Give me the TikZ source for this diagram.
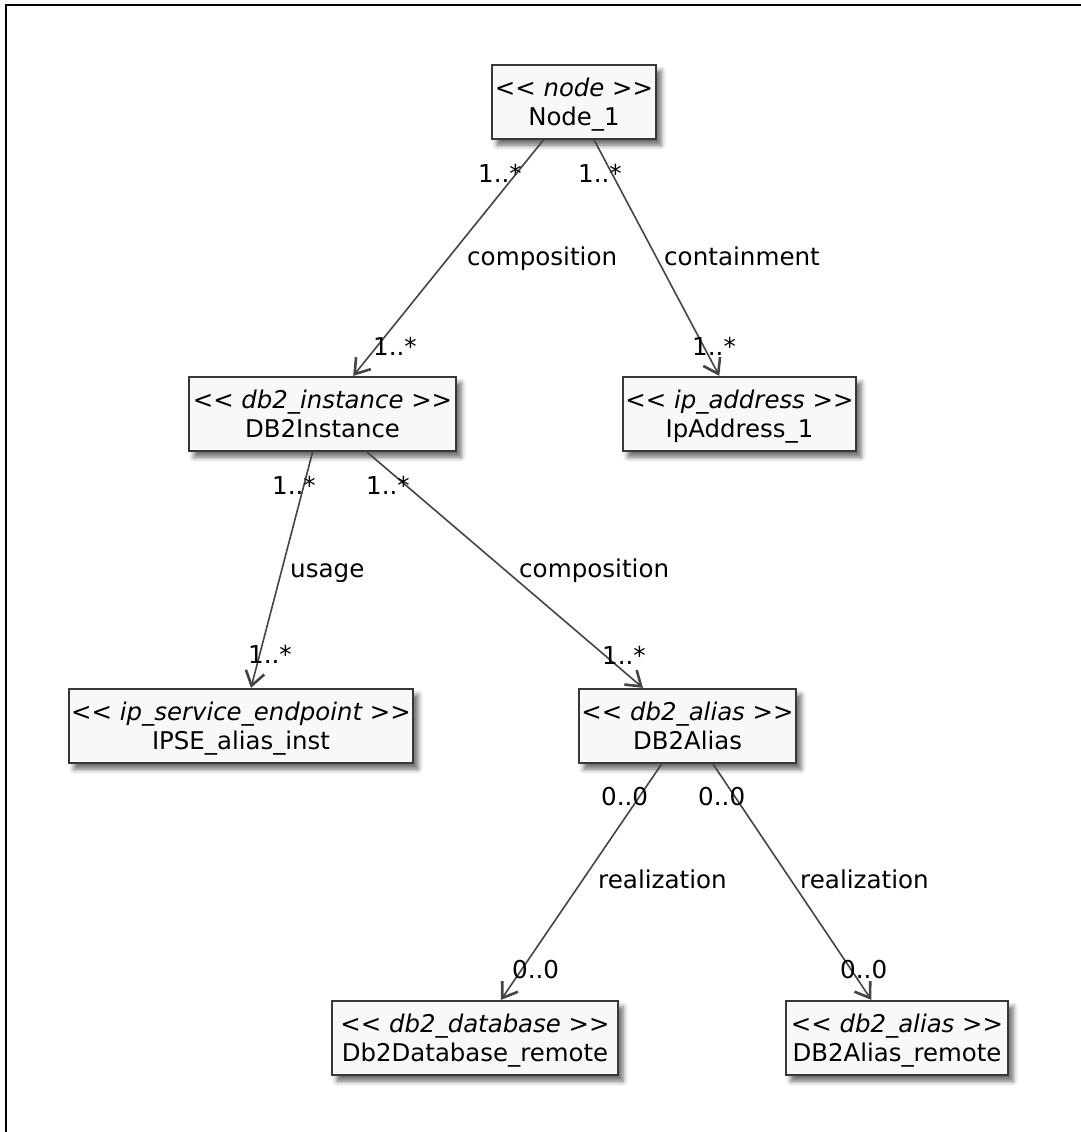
\documentclass[tikz,border=0pt]{standalone}
\usepackage{fontspec}
\setmainfont{DejaVu Sans}
\usetikzlibrary{arrows.meta,shadows.blur}

\definecolor{boxfill}{HTML}{F8F8F8}
\definecolor{boxline}{HTML}{383838}
\definecolor{edgecol}{HTML}{444444}

% two-line class text: italic stereotype over the element name
\newcommand\clsbox[2]{\vbox{\offinterlineskip\halign{\hfil##\hfil\cr
  \rule[-6pt]{0pt}{29pt}\itshape <{}< #1 >{}>\cr
  \rule[-6pt]{0pt}{29pt}#2\cr}}}

\begin{document}
\begin{tikzpicture}[x=1pt,y=-1pt,
  umlclass/.style={draw=boxline, line width=2.2pt, fill=boxfill, inner sep=0pt,
    minimum height=74pt,
    blur shadow={shadow xshift=5pt, shadow yshift=-6pt, shadow blur radius=5pt, shadow opacity=60},
    font=\fontsize{24.4}{29}\selectfont},
  assoc/.style={draw=edgecol, line width=1.6pt,
    -{Straight Barb[length=14pt,width=19pt,line width=2.6pt]}},
  edgetext/.style={anchor=base west, inner sep=0pt, font=\fontsize{24.6}{29}\selectfont}]

\useasboundingbox (0,0) rectangle (1081,1132);
\draw[line width=2pt, line cap=rect] (5.5,1140) -- (5.5,5.5) -- (1090,5.5);

% elements
\node[umlclass, minimum width=164pt] (n1)     at (574,102)   {\clsbox{node}{Node\_1}};
\node[umlclass, minimum width=267pt] (inst)   at (322.5,414) {\clsbox{db2\_instance}{DB2Instance}};
\node[umlclass, minimum width=233pt] (ip)     at (739.5,414) {\clsbox{ip\_address}{IpAddress\_1}};
\node[umlclass, minimum width=344pt] (ipse)   at (241,726)   {\clsbox{ip\_service\_endpoint}{IPSE\_alias\_inst}};
\node[umlclass, minimum width=217pt] (alias)  at (687.5,726) {\clsbox{db2\_alias}{DB2Alias}};
\node[umlclass, minimum width=286pt] (db)     at (475,1038)  {\clsbox{db2\_database}{Db2Database\_remote}};
\node[umlclass, minimum width=222pt] (aliasr) at (897,1038)  {\clsbox{db2\_alias}{DB2Alias\_remote}};

% relations
\draw[assoc] (n1) -- (inst);
\draw[assoc] (n1) -- (ip);
\draw[assoc] (inst) -- (ipse);
\draw[assoc] (inst) -- (alias);
\draw[assoc] (alias) -- (db);
\draw[assoc] (alias) -- (aliasr);

% relation names
\node[edgetext] (l1) at (467,265) {composition};
\node[edgetext] (l2) at (664,265) {containment};
\node[edgetext] (l3) at (290,577) {usage};
\node[edgetext] (l4) at (519,577) {composition};
\node[edgetext] (l5) at (598,888) {realization};
\node[edgetext] (l6) at (800,888) {realization};

% multiplicities
\node[edgetext] (m1)  at (478,182) {1..*};
\node[edgetext] (m2)  at (373,355) {1..*};
\node[edgetext] (m3)  at (578,182) {1..*};
\node[edgetext] (m4)  at (692,355) {1..*};
\node[edgetext] (m5)  at (272,494) {1..*};
\node[edgetext] (m6)  at (248,663) {1..*};
\node[edgetext] (m7)  at (366,494) {1..*};
\node[edgetext] (m8)  at (602,664) {1..*};
\node[edgetext] (m9)  at (601,805) {0..0};
\node[edgetext] (m10) at (512,978) {0..0};
\node[edgetext] (m11) at (698,805) {0..0};
\node[edgetext] (m12) at (840,978) {0..0};
\end{tikzpicture}
\end{document}
